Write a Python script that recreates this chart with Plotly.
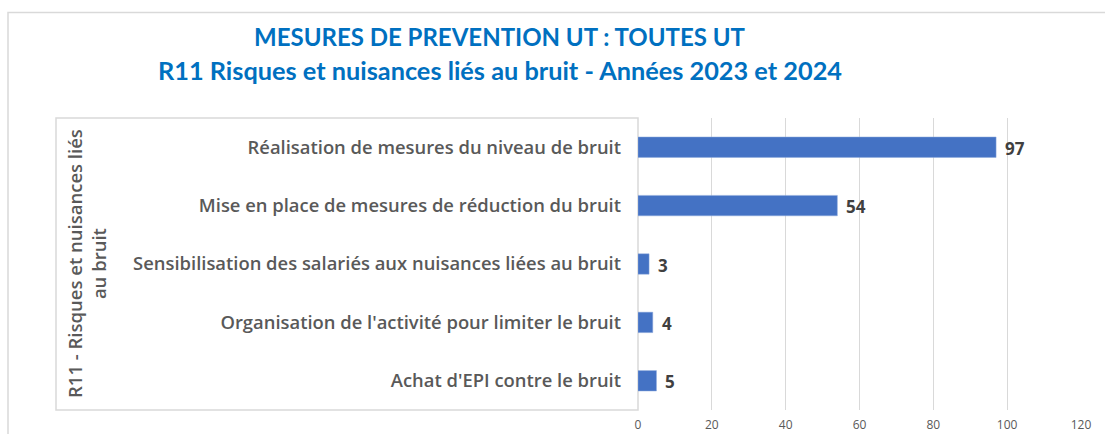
import plotly.graph_objects as go

categories = [
    "Réalisation de mesures du niveau de bruit",
    "Mise en place de mesures de réduction du bruit",
    "Sensibilisation des salariés aux nuisances liées au bruit",
    "Organisation de l'activité pour limiter le bruit",
    "Achat d'EPI contre le bruit",
]
values = [97, 54, 3, 4, 5]
group_label = "R11 - Risques et nuisances liés<br>au bruit"
title_line1 = "MESURES DE PREVENTION UT : TOUTES UT"
title_line2 = "R11 Risques et nuisances liés au bruit - Années 2023 et 2024"
x_ticks = [0, 20, 40, 60, 80, 100, 120]

W, H = 1105, 434
L, R, T, B = 638, 24, 118, 24
pw, ph = W - L - R, H - T - B

def px_x(x):
    return (x - L) / pw

def px_y(y):
    return 1 + (T - y) / ph

fig = go.Figure()
fig.add_trace(go.Bar(
    y=categories, x=values, orientation="h",
    marker=dict(color="#4472C4", line=dict(color="#8FAADC", width=0.5)),
    width=0.35,
    hoverinfo="x+y",
))

value_annotations = [
    dict(x=v, y=c, xref="x", yref="y", text=str(v), showarrow=False,
         xanchor="left", yanchor="middle", xshift=7, yshift=-1,
         font=dict(family="Open Sans", size=17, color="#404040", weight="bold"))
    for c, v in zip(categories, values)
]

fig.update_layout(
    width=W, height=H,
    margin=dict(l=L, r=R, t=T, b=B, autoexpand=False),
    paper_bgcolor="white", plot_bgcolor="white",
    showlegend=False,
    font=dict(family="Open Sans", color="#595959"),
    xaxis=dict(
        range=[0, 120], tickvals=x_ticks, showgrid=True, gridcolor="#D9D9D9",
        gridwidth=1, zeroline=False, showline=False, automargin=False,
        tickfont=dict(family="Open Sans", size=12, color="#595959"), ticks="",
        ticklabelstandoff=6,
    ),
    yaxis=dict(
        autorange="reversed", ticks="", showgrid=False, zeroline=False,
        showline=False, automargin=False,
        tickfont=dict(family="Open Sans", size=18.4, color="#595959", weight=600),
        ticklabelstandoff=16,
    ),
    shapes=[
        dict(type="rect", xref="paper", yref="paper",
             x0=px_x(8), x1=px_x(1115), y0=px_y(445), y1=px_y(12.5),
             line=dict(color="#D9D9D9", width=1.5), layer="below"),
        dict(type="rect", xref="paper", yref="paper",
             x0=px_x(56), x1=0, y0=0, y1=1,
             line=dict(color="#D9D9D9", width=1.5), layer="below"),
    ],
    annotations=value_annotations + [
        dict(text=title_line1, xref="paper", yref="paper", x=px_x(500), y=px_y(37),
             xanchor="center", yanchor="middle", showarrow=False,
             font=dict(family="Lato", size=24, color="#0070C0", weight="bold")),
        dict(text=title_line2, xref="paper", yref="paper", x=px_x(500), y=px_y(70),
             xanchor="center", yanchor="middle", showarrow=False,
             font=dict(family="Lato", size=25.3, color="#0070C0", weight="bold")),
        dict(text=group_label, xref="paper", yref="paper", x=px_x(86), y=0.5,
             xanchor="center", yanchor="middle", showarrow=False, textangle=-90,
             font=dict(family="Open Sans", size=18.5, color="#595959", weight=600)),
    ],
)

fig.write_html("out.html", config={"displayModeBar": False},
               post_script="document.body.style.margin='0';")
